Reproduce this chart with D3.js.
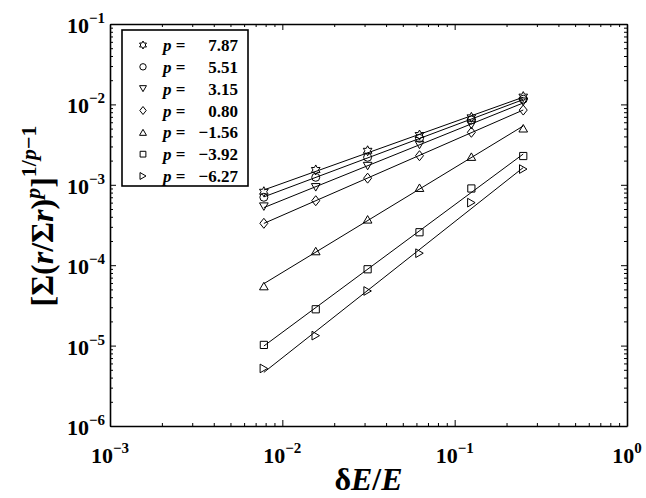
<!doctype html>
<html>
<head>
<meta charset="utf-8">
<script src="https://cdn.jsdelivr.net/npm/d3@7/dist/d3.min.js"></script>
<style>
  body { margin: 0; background: #fff; }
  svg { display: block; font-family: "Liberation Serif", "Times New Roman", serif; font-weight: bold; }
</style>
</head>
<body>
<svg width="646" height="498"></svg>
<script>
// data
var dEoverE = [0.0078125, 0.015625, 0.03125, 0.0625, 0.125, 0.25];
var pLabels = ["7.87", "5.51", "3.15", "0.80", "\u22121.56", "\u22123.92", "\u22126.27"];
var s787  = [8.2e-4, 1.53e-3, 2.65e-3, 4.16e-3, 6.9e-3, 1.25e-2];
var s551  = [7.0e-4, 1.24e-3, 2.20e-3, 3.78e-3, 6.4e-3, 1.16e-2];
var s315  = [5.35e-4, 9.3e-4, 1.71e-3, 3.13e-3, 5.54e-3, 1.08e-2];
var s080  = [3.32e-4, 6.34e-4, 1.21e-3, 2.30e-3, 4.50e-3, 8.5e-3];
var sm156 = [5.5e-5, 1.50e-4, 3.72e-4, 9.2e-4, 2.24e-3, 5.05e-3];
var sm392 = [1.02e-5, 2.83e-5, 8.9e-5, 2.57e-4, 9.0e-4, 2.28e-3];
var sm627 = [5.2e-6, 1.33e-5, 4.78e-5, 1.41e-4, 6.0e-4, 1.57e-3];
var xTickExp = [-3, -2, -1, 0];
var yTickExp = [-6, -5, -4, -3, -2, -1];

var series = [s787, s551, s315, s080, sm156, sm392, sm627];
var shapes = ["hexagram", "circle", "triDown", "diamond", "triUp", "square", "triRight"];

var pLeft = 110, pRight = 627, pTop = 24, pBottom = 426;
var x = d3.scaleLog().domain([1e-3, 1]).range([pLeft, pRight]);
var y = d3.scaleLog().domain([1e-6, 1e-1]).range([pBottom, pTop]);

var svg = d3.select("svg");

function marker(shape, r) {
  var p = d3.path();
  if (shape == "circle") {
    p.arc(0, 0, r * 0.8, 0, 2 * Math.PI);
  } else if (shape == "square") {
    p.rect(-r * 0.72, -r * 0.72, r * 1.44, r * 1.44);
  } else if (shape == "diamond") {
    p.moveTo(0, -r); p.lineTo(r * 0.8, 0); p.lineTo(0, r); p.lineTo(-r * 0.8, 0); p.closePath();
  } else if (shape == "triUp" || shape == "triDown" || shape == "triRight") {
    var rot = shape == "triUp" ? -90 : shape == "triDown" ? 90 : 0;
    var dy = shape == "triUp" ? r * 0.25 : shape == "triDown" ? -r * 0.25 : 0;
    var dx = shape == "triRight" ? -r * 0.25 : 0;
    for (var k = 0; k < 3; k++) {
      var a = (rot + k * 120) * Math.PI / 180;
      if (k == 0) p.moveTo(r * Math.cos(a) + dx, r * Math.sin(a) + dy);
      else p.lineTo(r * Math.cos(a) + dx, r * Math.sin(a) + dy);
    }
    p.closePath();
  } else if (shape == "hexagram") {
    for (var k = 0; k < 12; k++) {
      var a = (-90 + k * 30) * Math.PI / 180;
      var rr = k % 2 == 0 ? r : r * 0.55;
      if (k == 0) p.moveTo(rr * Math.cos(a), rr * Math.sin(a));
      else p.lineTo(rr * Math.cos(a), rr * Math.sin(a));
    }
    p.closePath();
  }
  return p.toString();
}

// fitted power-law lines (least squares in log-log)
function fit(vals) {
  var lx = dEoverE.map(Math.log10), ly = vals.map(Math.log10);
  var mx = d3.mean(lx), my = d3.mean(ly);
  var b = d3.sum(lx, (v, i) => (v - mx) * (ly[i] - my)) / d3.sum(lx, v => (v - mx) * (v - mx));
  var ends = [dEoverE[0], dEoverE[dEoverE.length - 1]];
  return ends.map(e => [e, Math.pow(10, my + b * (Math.log10(e) - mx))]);
}

var line = d3.line().x(d => x(d[0])).y(d => y(d[1]));

svg.selectAll("path.fit")
  .data(series)
  .enter().append("path")
  .attr("class", "fit")
  .attr("d", d => line(fit(d)))
  .attr("fill", "none")
  .attr("stroke", "#000")
  .attr("stroke-width", 1);

series.forEach(function(vals, i) {
  svg.selectAll(null)
    .data(vals)
    .enter().append("path")
    .attr("transform", (d, j) => "translate(" + x(dEoverE[j]) + "," + y(d) + ")")
    .attr("d", marker(shapes[i], 5))
    .attr("fill", "none")
    .attr("stroke", "#000")
    .attr("stroke-width", 1);
});

// axes with ticks on all four sides, pointing inward
function minorTicks(lo, hi) {
  var t = [];
  for (var e = lo; e < hi; e++) for (var m = 1; m < 10; m++) t.push(m * Math.pow(10, e));
  t.push(Math.pow(10, hi));
  return t;
}
var xTicks = minorTicks(-3, 0), yTicks = minorTicks(-6, -1);
function isMajor(v) { return Math.abs(Math.log10(v) - Math.round(Math.log10(v))) < 1e-6; }

svg.append("g").attr("transform", "translate(0," + pBottom + ")")
  .call(d3.axisTop(x).tickValues(xTicks).tickFormat("").tickSizeInner(0).tickSizeOuter(0))
  .call(g => g.selectAll(".tick line").attr("y2", d => isMajor(d) ? -6 : -3));
svg.append("g").attr("transform", "translate(0," + pTop + ")")
  .call(d3.axisBottom(x).tickValues(xTicks).tickFormat("").tickSizeInner(0).tickSizeOuter(0))
  .call(g => g.selectAll(".tick line").attr("y2", d => isMajor(d) ? 6 : 3));
svg.append("g").attr("transform", "translate(" + pLeft + ",0)")
  .call(d3.axisRight(y).tickValues(yTicks).tickFormat("").tickSizeInner(0).tickSizeOuter(0))
  .call(g => g.selectAll(".tick line").attr("x2", d => isMajor(d) ? 6 : 3));
svg.append("g").attr("transform", "translate(" + pRight + ",0)")
  .call(d3.axisLeft(y).tickValues(yTicks).tickFormat("").tickSizeInner(0).tickSizeOuter(0))
  .call(g => g.selectAll(".tick line").attr("x2", d => isMajor(d) ? -6 : -3));
svg.selectAll(".domain").attr("stroke", "#000").attr("stroke-width", 1.6);
svg.selectAll(".tick line").attr("stroke", "#000").attr("stroke-width", 1);

// tick labels 10^n
function powLabel(sel) {
  sel.append("tspan").attr("font-size", 22).text("10");
  sel.append("tspan").attr("font-size", 15).attr("dy", -10).text(d => d == 0 ? "0" : "\u2212" + Math.abs(d));
}
svg.selectAll("text.xt")
  .data(xTickExp)
  .enter().append("text")
  .attr("class", "xt")
  .attr("x", d => x(Math.pow(10, d)))
  .attr("y", 463)
  .attr("text-anchor", "middle")
  .call(powLabel);
svg.selectAll("text.yt")
  .data(yTickExp)
  .enter().append("text")
  .attr("class", "yt")
  .attr("x", 105)
  .attr("y", d => y(Math.pow(10, d)) + 9)
  .attr("text-anchor", "end")
  .call(powLabel);

// axis titles
var xl = svg.append("text").attr("x", (pLeft + pRight) / 2).attr("y", 490)
  .attr("text-anchor", "middle").attr("font-size", 32);
xl.append("tspan").text("\u03b4");
xl.append("tspan").attr("font-style", "italic").text("E");
xl.append("tspan").text("/");
xl.append("tspan").attr("font-style", "italic").text("E");

var yl = svg.append("text").attr("transform", "translate(53,216) rotate(-90)")
  .attr("text-anchor", "middle").attr("font-size", 32);
yl.append("tspan").text("[\u03a3(");
yl.append("tspan").attr("font-style", "italic").text("r");
yl.append("tspan").text("/\u03a3");
yl.append("tspan").attr("font-style", "italic").text("r");
yl.append("tspan").text(")");
yl.append("tspan").attr("font-style", "italic").attr("font-size", 22).attr("dy", -13).text("p");
yl.append("tspan").attr("dy", 13).text("]");
yl.append("tspan").attr("font-size", 22).attr("dy", -17).text("1/");
yl.append("tspan").attr("font-style", "italic").attr("font-size", 22).text("p");
yl.append("tspan").attr("font-size", 22).text("\u22121");

// legend
svg.append("rect").attr("x", 122).attr("y", 30).attr("width", 126).attr("height", 156)
  .attr("fill", "#fff").attr("stroke", "#000").attr("stroke-width", 1.6);
var rowY = d3.scaleLinear().domain([0, 6]).range([45, 176]);
var items = svg.selectAll("g.leg")
  .data(pLabels)
  .enter().append("g")
  .attr("class", "leg")
  .attr("transform", (d, i) => "translate(0," + rowY(i) + ")");
items.append("path")
  .attr("transform", "translate(143,0)")
  .attr("d", (d, i) => marker(shapes[i], 4))
  .attr("fill", "none").attr("stroke", "#000").attr("stroke-width", 1);
var pt = items.append("text").attr("x", 163).attr("y", 6).attr("font-size", 17);
pt.append("tspan").attr("font-style", "italic").text("p");
pt.append("tspan").text(" =");
items.append("text").attr("x", 238).attr("y", 6).attr("font-size", 17)
  .attr("text-anchor", "end").text(d => d);
</script>
</body>
</html>
